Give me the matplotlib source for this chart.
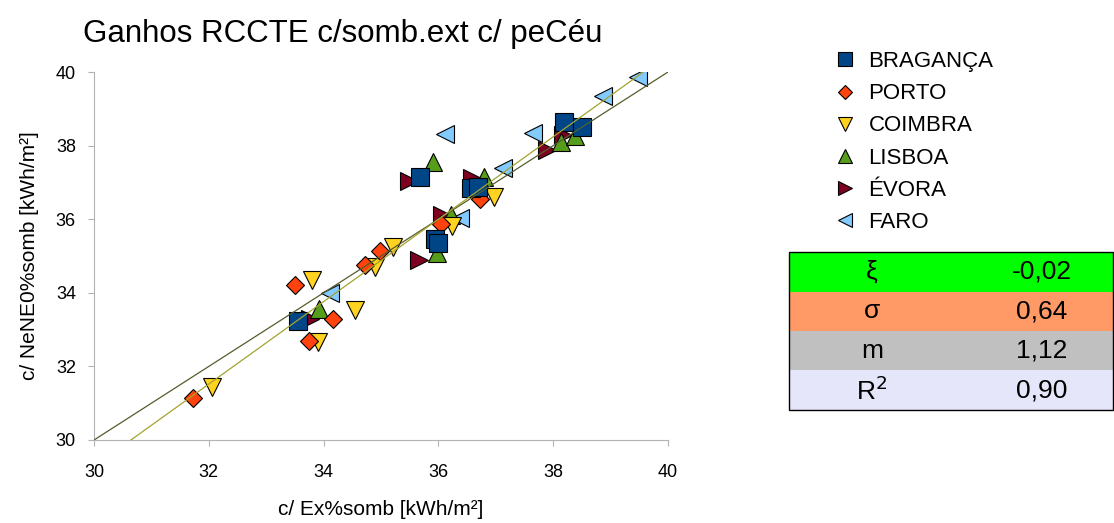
import numpy as np
import matplotlib
matplotlib.use('Agg')
import matplotlib.pyplot as plt
from matplotlib.patches import Rectangle

plt.rcParams['font.family'] = ['Liberation Sans', 'DejaVu Sans']

# data (x = c/ Ex%somb, y = c/ NeNE0%somb)
cities = ['BRAGANÇA', 'PORTO', 'COIMBRA', 'LISBOA', 'ÉVORA', 'FARO']
markers = ['s', 'D', 'v', '^', '>', '<']
colors = ['#004586', '#ff420e', '#ffd320', '#579d1c', '#7e0021', '#83caff']
sizes = [13.5, 9.5, 13.5, 13.5, 13.5, 13.5]

braganca_x = [35.68, 36.57, 36.69, 35.94, 35.99, 33.55, 38.19, 38.51]
braganca_y = [37.15, 36.86, 36.88, 35.46, 35.35, 33.24, 38.65, 38.50]
porto_x = [31.72, 33.51, 34.17, 33.75, 34.72, 34.99, 36.05, 36.72]
porto_y = [31.13, 34.21, 33.28, 32.69, 34.76, 35.14, 35.87, 36.54]
coimbra_x = [32.06, 33.79, 34.55, 33.91, 34.90, 35.21, 36.23, 36.97]
coimbra_y = [31.45, 34.35, 33.53, 32.67, 34.71, 35.25, 35.82, 36.59]
lisboa_x = [33.92, 35.91, 36.80, 35.97, 36.22, 38.14, 38.38]
lisboa_y = [33.55, 37.56, 37.16, 35.07, 36.11, 38.11, 38.26]
evora_x = [35.49, 35.67, 36.06, 36.58, 37.89, 38.18, 33.76]
evora_y = [37.05, 34.89, 36.11, 37.11, 37.88, 38.29, 33.28]
faro_x = [34.11, 36.11, 37.12, 36.38, 37.65, 38.86, 39.47]
faro_y = [33.99, 38.32, 37.38, 36.02, 38.35, 39.35, 39.87]

xs = [braganca_x, porto_x, coimbra_x, lisboa_x, evora_x, faro_x]
ys = [braganca_y, porto_y, coimbra_y, lisboa_y, evora_y, faro_y]

reg_slope = 1.12
reg_intercept = -4.32

stat_names = ['ξ', 'σ', 'm', 'R$^2$']
stat_values = ['-0,02', '0,64', '1,12', '0,90']
stat_colors = ['#00ff00', '#ff9966', '#c0c0c0', '#e6e6fa']

fig = plt.figure(figsize=(11.14, 5.23), dpi=100)
ax = fig.add_axes([0.0844, 0.1587, 0.5152, 0.7036])

handles = []
# later series first so BRAGANÇA ends on top like in the original
for i in reversed(range(len(cities))):
    h, = ax.plot(xs[i], ys[i], linestyle='none', marker=markers[i], ms=sizes[i],
                 mfc=colors[i], mec='black', mew=0.8, label=cities[i], zorder=3)
    handles.insert(0, h)

line_x = np.array([30, 40])
ax.plot(line_x, line_x, color='#555d2b', lw=0.9, zorder=4)
ax.plot(line_x, reg_slope * line_x + reg_intercept, color='#a3a32e', lw=0.9, zorder=4)

ax.set_xlim(30, 40)
ax.set_ylim(30, 40)
ax.set_xticks(range(30, 41, 2))
ax.set_yticks(range(30, 41, 2))
for s in ['top', 'right']:
    ax.spines[s].set_visible(False)
for s in ['left', 'bottom']:
    ax.spines[s].set_color('#b3b3b3')
ax.tick_params(direction='out', length=4, color='#b3b3b3', labelsize=13)
ax.tick_params(axis='x', pad=13)
ax.tick_params(axis='y', pad=9)

ax.set_xlabel('c/ Ex%somb [kWh/m²]', fontsize=15, labelpad=14)
ax.set_ylabel('c/ NeNE0%somb [kWh/m²]', fontsize=15, labelpad=12)
fig.text(0.308, 0.935, 'Ganhos RCCTE c/somb.ext c/ peCéu', fontsize=22.5,
         ha='center', va='center')

fig.legend(handles=handles, loc='upper left', bbox_to_anchor=(0.7487, 0.902),
           frameon=False, fontsize=16, markerscale=0.75, labelspacing=0.5,
           handlelength=1.0, handletextpad=0.55, borderpad=0, borderaxespad=0)

# stats box
x0, x1 = 789 / 1114, 1.0
top = 1 - 252 / 523
row_h = 39.5 / 523
for i in range(len(stat_names)):
    y0 = top - (i + 1) * row_h
    fig.patches.append(Rectangle((x0, y0), x1 - x0, row_h, transform=fig.transFigure,
                                 facecolor=stat_colors[i], edgecolor='none'))
    fig.text(872 / 1114, y0 + row_h / 2, stat_names[i], fontsize=19,
             ha='center', va='center')
    fig.text(1042 / 1114, y0 + row_h / 2, stat_values[i], fontsize=19,
             ha='center', va='center')
fig.patches.append(Rectangle((x0, top - 4 * row_h), x1 - x0 - 0.001, 4 * row_h,
                             transform=fig.transFigure, facecolor='none',
                             edgecolor='black', lw=1))

fig.savefig('out.png', dpi=100)
